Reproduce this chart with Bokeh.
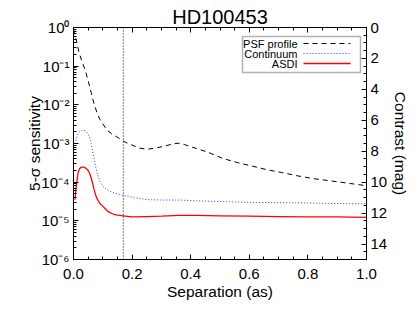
from bokeh.plotting import figure
from bokeh.models import (Range1d, LinearAxis, LinearScale, FixedTicker, CustomJSTickFormatter,
                          Span, Label, BoxAnnotation, Arrow)
from bokeh.embed import file_html
from bokeh.resources import INLINE

# ---------------- data ----------------
title_text = "HD100453"
x_label = "Separation (as)"
y_label = "5-\u03c3 sensitivity"
y2_label = "Contrast (mag)"
legend_labels = ["PSF profile", "Continuum", "ASDI"]

iwa_sep = 0.17  # vertical dotted marker

psf_sep = [0.0, 0.01, 0.02, 0.03, 0.04, 0.05, 0.06, 0.07, 0.08, 0.09, 0.10, 0.115,
           0.13, 0.15, 0.175, 0.20, 0.225, 0.25, 0.28, 0.31, 0.34, 0.36, 0.38, 0.42,
           0.46, 0.51, 0.56, 0.61, 0.66, 0.71, 0.76, 0.82, 0.87, 0.92, 0.96, 1.0]
psf_sens = [8.9e-1, 4.5e-1, 2.1e-1, 1.26e-1, 7.9e-2, 4.2e-2, 2.1e-2, 1.07e-2,
            6.3e-3, 4.2e-3, 3.2e-3, 2.2e-3, 1.78e-3, 1.45e-3, 1.1e-3, 9.1e-4,
            7.6e-4, 7.1e-4, 7.6e-4, 8.5e-4, 9.8e-4, 1.02e-3, 9.3e-4, 7.4e-4,
            5.9e-4, 4.1e-4, 3.2e-4, 2.6e-4, 2.1e-4, 1.78e-4, 1.48e-4, 1.23e-4,
            1.1e-4, 9.8e-5, 8.9e-5, 8.1e-5]

cont_sep = [0.005, 0.01, 0.015, 0.02, 0.03, 0.04, 0.05, 0.058, 0.065, 0.07, 0.075,
            0.08, 0.09, 0.10, 0.11, 0.12, 0.14, 0.17, 0.2, 0.25, 0.3, 0.36, 0.42,
            0.5, 0.6, 0.7, 0.8, 0.9, 1.0]
cont_sens = [1.0e-3, 1.35e-3, 1.78e-3, 2.0e-3, 2.2e-3, 2.15e-3, 1.78e-3, 1.2e-3,
             6.3e-4, 4.2e-4, 2.6e-4, 1.78e-4, 1.05e-4, 7.9e-5, 6.8e-5, 6.0e-5,
             5.2e-5, 4.6e-5, 4.1e-5, 3.55e-5, 3.45e-5, 3.45e-5, 3.3e-5, 3.15e-5,
             3.0e-5, 2.95e-5, 2.9e-5, 2.8e-5, 2.75e-5]

asdi_sep = [0.005, 0.008, 0.012, 0.016, 0.02, 0.025, 0.03, 0.035, 0.04, 0.045,
            0.05, 0.055, 0.06, 0.065, 0.07, 0.075, 0.08, 0.09, 0.10, 0.11, 0.12,
            0.135, 0.15, 0.17, 0.2, 0.25, 0.3, 0.36, 0.42, 0.5, 0.6, 0.7, 0.8,
            0.9, 1.0]
asdi_sens = [3.5e-5, 6.3e-5, 1.12e-4, 1.78e-4, 2.2e-4, 2.4e-4, 2.45e-4, 2.45e-4,
             2.35e-4, 2.2e-4, 2.0e-4, 1.7e-4, 1.32e-4, 9.5e-5, 6.6e-5, 4.8e-5,
             3.8e-5, 2.8e-5, 2.4e-5, 2.0e-5, 1.7e-5, 1.5e-5, 1.41e-5, 1.35e-5,
             1.26e-5, 1.29e-5, 1.32e-5, 1.38e-5, 1.38e-5, 1.35e-5, 1.32e-5,
             1.29e-5, 1.26e-5, 1.26e-5, 1.23e-5]

x_ticks = [0.0, 0.2, 0.4, 0.6, 0.8, 1.0]
y_exponents = [-6, -5, -4, -3, -2, -1, 0]
mag_ticks = [0, 2, 4, 6, 8, 10, 12, 14]

# ---------------- figure ----------------
FONT = "Liberation Sans"

p = figure(width=415, height=312, output_backend="svg", toolbar_location=None,
           x_range=Range1d(0, 1.0), y_range=Range1d(1e-6, 1.0), y_axis_type="log",
           min_border_left=73, min_border_right=49, min_border_top=27,
           min_border_bottom=53)
p.background_fill_color = "white"
p.border_fill_color = "white"
p.outline_line_color = "black"
p.xgrid.visible = False
p.ygrid.visible = False

p.title.text = title_text
p.title.align = "center"
p.title.text_font = FONT
p.title.text_font_size = "20px"
p.title.text_font_style = "normal"
p.title.text_color = "black"
p.title.standoff = 0
p.title.offset = 0

p.extra_y_ranges = {"mag": Range1d(15, 0)}
p.extra_y_scales = {"mag": LinearScale()}

x_minor = [i * 0.05 for i in range(21)]
y_minor = [m * 10.0 ** e for e in range(-6, 0) for m in range(2, 10)]
mag_minor = [i * 0.5 for i in range(31)]


def style(ax):
    ax.axis_line_color = "black"
    ax.major_tick_line_color = "black"
    ax.minor_tick_line_color = "black"
    ax.major_tick_in = 5
    ax.major_tick_out = 0
    ax.minor_tick_in = 3
    ax.minor_tick_out = 0
    ax.major_label_text_font = FONT
    ax.major_label_text_font_size = "15px"
    ax.major_label_text_color = "black"
    ax.axis_label_text_font = FONT
    ax.axis_label_text_font_size = "15.5px"
    ax.axis_label_text_font_style = "normal"
    ax.axis_label_text_color = "black"


xa = p.xaxis[0]
xa.ticker = FixedTicker(ticks=x_ticks, minor_ticks=x_minor)
xa.formatter = CustomJSTickFormatter(code="return tick.toFixed(1);")
xa.axis_label = x_label
xa.major_label_standoff = 9
xa.axis_label_standoff = 1
style(xa)

ya = p.yaxis[0]
ya.ticker = FixedTicker(ticks=[10.0 ** e for e in y_exponents], minor_ticks=y_minor)
ya.formatter = CustomJSTickFormatter(code="""
const sup = {"-":"\u207b","0":"\u2070","1":"\u00b9","2":"\u00b2","3":"\u00b3",
             "4":"\u2074","5":"\u2075","6":"\u2076","7":"\u2077","8":"\u2078","9":"\u2079"};
const e = Math.round(Math.log10(tick));
return "10" + String(e).split("").map(c => sup[c]).join("");
""")
ya.axis_label = y_label
ya.major_label_standoff = 4
ya.axis_label_standoff = -5
style(ya)

top = LinearAxis(ticker=FixedTicker(ticks=x_ticks, minor_ticks=x_minor),
                 formatter=CustomJSTickFormatter(code="return '';"))
style(top)
top.major_label_standoff = 0
top.major_label_text_font_size = "1px"
p.add_layout(top, "above")

right = LinearAxis(y_range_name="mag",
                   ticker=FixedTicker(ticks=mag_ticks, minor_ticks=mag_minor),
                   axis_label=y2_label)
style(right)
right.major_label_standoff = 4
right.axis_label_standoff = 2
p.add_layout(right, "right")

# ---------------- curves ----------------
p.line(psf_sep, psf_sens, line_color="black", line_width=1, line_dash="5 4")
p.line(cont_sep, cont_sens, line_color="#3030ff", line_width=1, line_dash="1 2")
p.line(asdi_sep, asdi_sens, line_color="#ff0000", line_width=1.3)

p.add_layout(Span(location=iwa_sep, dimension="height", line_color="black",
                  line_width=1, line_dash="1 2"))

# ---------------- legend (labels left, samples right) ----------------
p.add_layout(BoxAnnotation(left=169, right=287, top=223, bottom=187,
                           left_units="screen", right_units="screen",
                           top_units="screen", bottom_units="screen",
                           fill_alpha=0, line_color="black", line_width=1.5))
styles = [("black", "5 4", 1), ("#3030ff", "1 2", 1), ("#ff0000", "solid", 1.3)]
rows_y = [216, 206, 196]
for lab, yy, (col, dash, lw) in zip(legend_labels, rows_y, styles):
    p.add_layout(Label(x=224, y=yy, x_units="screen", y_units="screen", text=lab,
                       text_align="right", text_baseline="middle",
                       text_font=FONT, text_font_size="11px", text_color="black"))
    p.add_layout(Arrow(x_start=230, y_start=yy, x_end=277, y_end=yy,
                       start_units="screen", end_units="screen", end=None,
                       line_color=col, line_dash=dash, line_width=lw))

open("out.html", "w").write(file_html(p, INLINE))
